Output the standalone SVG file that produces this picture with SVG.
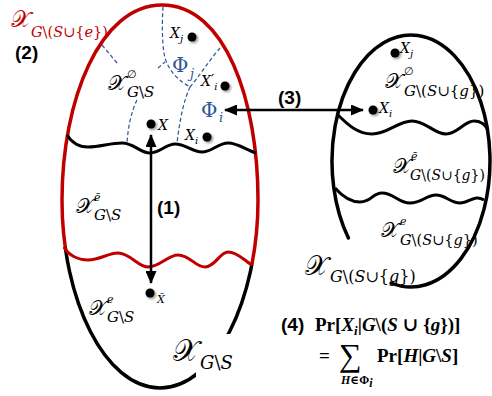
<svg xmlns="http://www.w3.org/2000/svg" width="492" height="396" viewBox="0 0 492 396">
<style>
.egg{fill:none;stroke-width:3.5;stroke-linecap:round}
.blk{stroke:#000}
.red{stroke:#C00000}
.wave{fill:none;stroke-width:3}
.dash{fill:none;stroke:#2F5597;stroke-width:1.2;stroke-dasharray:4 2.5}
.dot{fill:#000;filter:url(#sh)}
.arr{stroke:#000;stroke-width:2.5;fill:none;marker-start:url(#ah);marker-end:url(#ah)}
.m{font-family:"DejaVu Serif","Liberation Serif",serif;fill:#000}
.f{font-family:"Liberation Serif","DejaVu Serif",serif;fill:#000}
.i{font-style:italic}
.sc{font-family:"DejaVu Serif","DejaVu Sans","Noto Sans",serif;font-style:normal}
.lb{font-family:"Liberation Sans","Open Sans",sans-serif;font-weight:bold;fill:#000}
.blue{fill:#2F5597}
.redt{fill:#C00000}
.b{font-weight:bold}
</style>
<defs>
<filter id="sh" x="-50%" y="-50%" width="200%" height="200%">
<feDropShadow dx="1.5" dy="1.5" stdDeviation="1.2" flood-color="#000" flood-opacity="0.45"/>
</filter>
<marker id="ah" markerUnits="userSpaceOnUse" markerWidth="13" markerHeight="11" refX="12" refY="5.5" orient="auto-start-reverse" viewBox="0 0 13 11">
<path d="M0,0 L13,5.5 L0,11 Z" fill="#000"/>
</marker>
<clipPath id="cRed"><path d="M0,0 H492 V265 H160 V247 H0 Z"/></clipPath>
<clipPath id="cBlk"><path clip-rule="evenodd" d="M0,247 H160 V265 H492 V396 H0 Z M196,334 H231 V377 H196 Z"/></clipPath>
<path id="eggL" d="M162,5 C225,5 258,100 258,200 C258,300 215,388 160,388 C105,388 62,300 62,200 C62,100 100,5 162,5 Z"/>
</defs>

<g id="left-set">
<use href="#eggL" class="egg red" clip-path="url(#cRed)"/>
<use href="#eggL" class="egg blk" clip-path="url(#cBlk)"/>
<path class="wave blk" d="M67,135 C72,143 80,147 88,147 C100,147 110,143 122,143 C134,143 140,153 150,153 C160,153 166,144 175,144 C186,144 192,152 202,152 C212,152 218,143 228,143 C238,143 246,150 256,153"/>
<path class="wave red" d="M64,247 C68,255 78,260 88,260 C100,260 108,253 118,253 C130,253 138,267 148,267 C160,267 168,255 178,255 C190,255 195,267 205,267 C215,267 220,252 228,252 C238,252 246,262 252,265"/>
</g>

<g id="partitions">
<path class="dash" d="M102,45 L117,63"/>
<path class="dash" d="M163,7 C162,22 162,40 164,53 C166,66 174,78 190,87"/>
<path class="dash" d="M158,68 L165,62"/>
<path class="dash" d="M190,87 C198,78 208,62 220,48"/>
<path class="dash" d="M190,87 C184,100 180,118 177,143"/>
<path class="dash" d="M137,100 C131,112 128,128 127,143"/>
</g>

<g id="right-set">
<path class="egg blk" d="M348.4,237.9 A79 126 0 1 1 391.2,283"/>
<path class="wave blk" d="M338,115 C348,125 358,134 372,134 C388,134 398,121 412,121 C426,121 434,134 446,134 C458,134 464,121 474,121 C482,121 486,126 488,130"/>
<path class="wave blk" d="M335,188 C342,196 350,202 360,202 C372,202 372,193 382,193 C394,193 398,203 410,203 C422,203 426,195 436,195 C446,195 450,203 460,203 C470,203 474,194 484,200"/>
</g>

<g id="connectors">
<line class="arr" x1="151" y1="135" x2="151" y2="283"/>
<line class="arr" x1="225" y1="110" x2="363" y2="110"/>
</g>

<g id="points">
<circle class="dot" cx="192" cy="37" r="4.5"/>
<circle class="dot" cx="225" cy="86" r="4.5"/>
<circle class="dot" cx="151" cy="124" r="4.5"/>
<circle class="dot" cx="207" cy="137" r="4.5"/>
<circle class="dot" cx="150" cy="293" r="4.5"/>
<circle class="dot" cx="395" cy="53" r="4.5"/>
<circle class="dot" cx="373" cy="110" r="4.5"/>
</g>

<g id="labels">
<text class="lb" x="15" y="59" font-size="19">(2)</text>
<text class="lb" x="157" y="214" font-size="19">(1)</text>
<text class="lb" x="278" y="104" font-size="19">(3)</text>
<text class="lb" x="281" y="331" font-size="19">(4)</text>

<text class="m redt" x="11" y="27" font-size="23"><tspan class="sc">𝒳</tspan></text>
<text class="m redt" x="31" y="37" font-size="14.5"><tspan class="i">G</tspan>\(<tspan class="i">S</tspan>∪{<tspan class="i">e</tspan>})</text>

<text class="m" x="108" y="90" font-size="21"><tspan class="sc">𝒳</tspan></text>
<text class="m" x="127" y="78" font-size="11">∅</text>
<text class="m" x="127" y="97" font-size="15"><tspan class="i">G</tspan>\<tspan class="i">S</tspan></text>

<text class="m blue" x="172" y="72" font-size="20">Φ</text>
<text class="m blue i" x="190" y="78" font-size="13">j</text>
<text class="m blue" x="201" y="117" font-size="20">Φ</text>
<text class="m blue i" x="219" y="122" font-size="13">i</text>

<text class="m i" x="170" y="38" font-size="14">X</text>
<text class="m i" x="180" y="42" font-size="10">j</text>
<text class="m i" x="201" y="86" font-size="14">X<tspan font-style="normal" font-size="14" dy="-1">′</tspan><tspan font-size="10" dy="5">i</tspan></text>
<text class="m i" x="158" y="130" font-size="14">X</text>
<text class="m i" x="185" y="140" font-size="14">X</text>
<text class="m i" x="195" y="144" font-size="10">i</text>
<text class="m i" x="157" y="303" font-size="11">X̃</text>

<text class="m" x="76" y="213" font-size="21"><tspan class="sc">𝒳</tspan></text>
<text class="m i" x="94" y="201" font-size="11">ē</text>
<text class="m" x="94" y="220" font-size="15"><tspan class="i">G</tspan>\<tspan class="i">S</tspan></text>

<text class="m" x="89" y="315" font-size="21"><tspan class="sc">𝒳</tspan></text>
<text class="m i" x="107" y="303" font-size="11">e</text>
<text class="m" x="107" y="322" font-size="15"><tspan class="i">G</tspan>\<tspan class="i">S</tspan></text>

<text class="m" x="173" y="361" font-size="30"><tspan class="sc">𝒳</tspan></text>
<text class="m" x="200" y="369" font-size="18"><tspan class="i">G</tspan>\<tspan class="i">S</tspan></text>

<text class="m i" x="400" y="53" font-size="14">X</text>
<text class="m i" x="410" y="57" font-size="10">j</text>
<text class="m i" x="379" y="113" font-size="14">X</text>
<text class="m i" x="389" y="117" font-size="10">i</text>

<text class="m" x="385" y="88" font-size="21"><tspan class="sc">𝒳</tspan></text>
<text class="m" x="404" y="75" font-size="11">∅</text>
<text class="m" x="404" y="96" font-size="15"><tspan class="i">G</tspan>\(<tspan class="i">S</tspan>∪{<tspan class="i">g</tspan>})</text>

<text class="m" x="393" y="173" font-size="21"><tspan class="sc">𝒳</tspan></text>
<text class="m i" x="411" y="160" font-size="11">ē</text>
<text class="m" x="410" y="180" font-size="14"><tspan class="i">G</tspan>\(<tspan class="i">S</tspan>∪{<tspan class="i">g</tspan>})</text>

<text class="m" x="381" y="237" font-size="21"><tspan class="sc">𝒳</tspan></text>
<text class="m i" x="400" y="225" font-size="11">e</text>
<text class="m" x="400" y="245" font-size="14.5"><tspan class="i">G</tspan>\(<tspan class="i">S</tspan>∪{<tspan class="i">g</tspan>})</text>

<text class="m" x="305" y="275" font-size="27"><tspan class="sc">𝒳</tspan></text>
<text class="m" x="330" y="282" font-size="16"><tspan class="i">G</tspan>\(<tspan class="i">S</tspan>∪{<tspan class="i">g</tspan>})</text>

<text class="f b" x="315" y="331" font-size="19">Pr[<tspan class="i">X</tspan><tspan class="i" font-size="13" dy="4">i</tspan><tspan dy="-4">|</tspan><tspan class="i">G</tspan>\(<tspan class="i">S</tspan> ∪ {<tspan class="i">g</tspan>})]</text>
<text class="f b" x="319" y="362" font-size="19">=</text>
<text class="f" x="339" y="366" font-size="32">∑</text>
<text class="f b" x="341" y="384" font-size="12"><tspan class="i">H</tspan>∈Φ<tspan class="i" dy="3">i</tspan></text>
<text class="f b" x="377" y="362" font-size="19">Pr[<tspan class="i">H</tspan>|<tspan class="i">G</tspan>\<tspan class="i">S</tspan>]</text>
</g>
</svg>
